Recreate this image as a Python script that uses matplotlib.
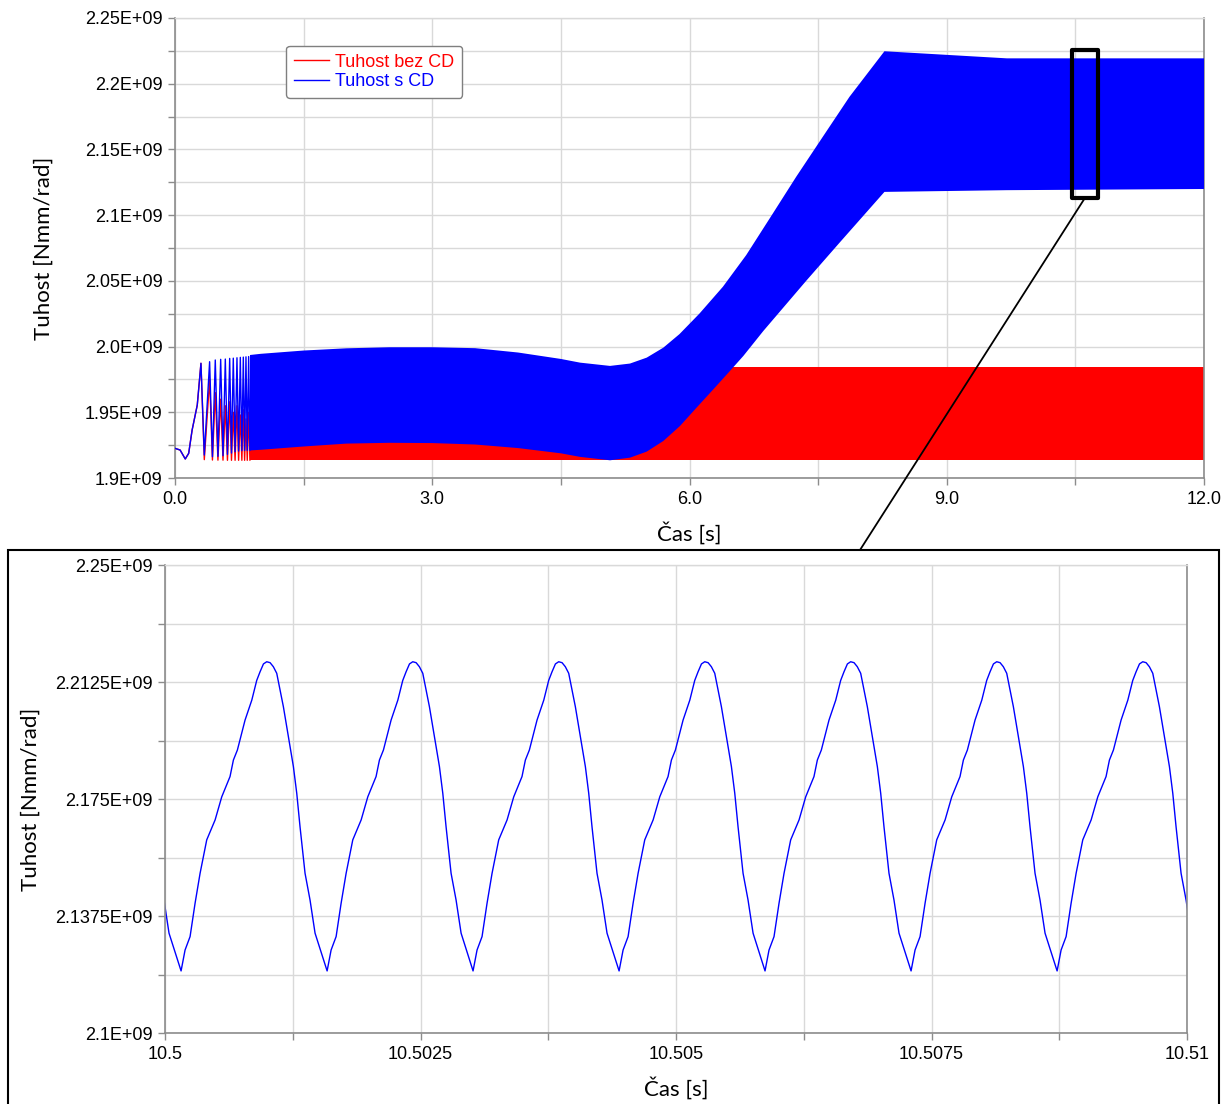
import matplotlib.pyplot as plt
from matplotlib.patches import Rectangle, ConnectionPatch
import numpy as np

plt.rcParams['font.family'] = ['Liberation Sans', 'DejaVu Sans']

BLUE = '#0000ff'
RED = '#ff0000'
GRID = '#d9d9d9'
SPINE = '#8c8c8c'

# ---- top chart, values in 1E9 Nmm/rad ----
# start-up transient (same for both curves up to first peak)
start_t = [0.0, 0.06, 0.12, 0.16, 0.20, 0.26]
start_v = [1.9226, 1.9213, 1.9145, 1.9188, 1.9365, 1.9555]

# oscillation peaks / valleys before the band closes
peak_t = [0.303, 0.404, 0.470, 0.533, 0.587, 0.638, 0.680, 0.723, 0.762,
          0.797, 0.828, 0.859, 0.890]
blue_peak_v = [1.9873, 1.9885, 1.9898, 1.9903, 1.9905, 1.9910, 1.9912,
               1.9915, 1.9918, 1.9920, 1.9922, 1.9924, 1.9926]
red_peak_v = [1.9873, 1.9750, 1.9650, 1.9600, 1.9550, 1.9580, 1.9500,
              1.9550, 1.9480, 1.9520, 1.9450, 1.9500, 1.9460]
valley_t = [0.342, 0.437, 0.501, 0.560, 0.612, 0.659, 0.701, 0.742, 0.780,
            0.812, 0.843, 0.874]
blue_valley_v = [1.9175, 1.9162, 1.9165, 1.9170, 1.9180, 1.9190, 1.9200,
                 1.9205, 1.9208, 1.9210, 1.9210, 1.9210]
red_valley_v = [1.9140, 1.9137, 1.9136, 1.9136, 1.9135, 1.9135, 1.9135,
                1.9135, 1.9135, 1.9135, 1.9135, 1.9135]

# envelope of the dense oscillation (rendered as a band)
upper_t = [0.875, 1.0, 1.5, 2.0, 2.5, 3.0, 3.5, 4.0, 4.5, 4.723, 5.073,
           5.306, 5.501, 5.695, 5.883, 6.117, 6.389, 6.661, 6.972, 7.244,
           7.554, 7.865, 8.273, 9.70, 12.0]
upper_v = [1.9936, 1.9945, 1.9970, 1.9987, 1.9995, 1.9995, 1.9988, 1.9955,
           1.9906, 1.9878, 1.9853, 1.9871, 1.9916, 1.9992, 2.0095, 2.0252,
           2.0455, 2.0696, 2.1013, 2.1292, 2.1596, 2.1900, 2.2247,
           2.2193, 2.2193]
lower_t = [0.875, 1.0, 1.5, 2.0, 2.5, 3.0, 3.5, 4.0, 4.5, 4.723, 5.073,
           5.306, 5.501, 5.695, 5.889, 6.083, 6.278, 6.472, 6.628, 6.861,
           7.360, 7.749, 8.273, 9.70, 12.0]
lower_v = [1.9210, 1.9215, 1.9240, 1.9262, 1.9268, 1.9266, 1.9255, 1.9228,
           1.9188, 1.9161, 1.9135, 1.9155, 1.9201, 1.9282, 1.9396, 1.9536,
           1.9675, 1.9815, 1.9929, 2.0119, 2.0500, 2.0790, 2.1177, 2.1190,
           2.1199]
red_band_t = [0.875, 12.0]
red_lower = [1.9135, 1.9135]
red_upper = [1.9845, 1.9845]

top_xticks = [0.0, 1.5, 3.0, 4.5, 6.0, 7.5, 9.0, 10.5, 12.0]
top_xlabels = ['0.0', '', '3.0', '', '6.0', '', '9.0', '', '12.0']
top_yticks = [1.9, 1.925, 1.95, 1.975, 2.0, 2.025, 2.05, 2.075, 2.1, 2.125,
              2.15, 2.175, 2.2, 2.225, 2.25]
top_ylabels = ['1.9E+09', '', '1.95E+09', '', '2.0E+09', '', '2.05E+09', '',
               '2.1E+09', '', '2.15E+09', '', '2.2E+09', '', '2.25E+09']

# ---- bottom chart: one read period (offset in us from a minimum) ----
cycle_us = [0, 39, 88, 137, 186, 251, 333, 398, 479, 512, 551, 626, 692,
            740, 773, 806, 838, 871, 903, 936, 969, 1001, 1034, 1066, 1099,
            1132, 1164, 1213, 1262, 1311, 1343]
cycle_v = [2.1199, 2.1266, 2.1309, 2.1416, 2.1512, 2.1619, 2.1683, 2.1757,
           2.1822, 2.1875, 2.1907, 2.2003, 2.2067, 2.2130, 2.2158, 2.2183,
           2.2190, 2.2187, 2.2174, 2.2153, 2.2099, 2.2046, 2.1982, 2.1918,
           2.1854, 2.1768, 2.1661, 2.1512, 2.1426, 2.1320, 2.1287]
# times of the minima, us after 10.5 s
min_us = [-1272, 157, 1586, 3014, 4443, 5871, 7300, 8729, 10157]

bot_xticks = [10.5, 10.50125, 10.5025, 10.50375, 10.505, 10.50625, 10.5075,
              10.50875, 10.51]
bot_xlabels = ['10.5', '', '10.5025', '', '10.505', '', '10.5075', '', '10.51']
bot_yticks = [2.1, 2.11875, 2.1375, 2.15625, 2.175, 2.19375, 2.2125,
              2.23125, 2.25]
bot_ylabels = ['2.1E+09', '', '2.1375E+09', '', '2.175E+09', '',
               '2.2125E+09', '', '2.25E+09']


def style_axes(ax, xticks, xlabels, yticks, ylabels):
    ax.set_xticks(xticks)
    ax.set_xticklabels(xlabels)
    ax.set_yticks(yticks)
    ax.set_yticklabels(ylabels)
    ax.grid(True, color=GRID, linewidth=1.0)
    ax.set_axisbelow(True)
    ax.tick_params(direction='out', length=5, width=1, color=SPINE,
                   labelsize=13, pad=4)
    for side in ['left', 'bottom', 'right']:
        ax.spines[side].set_color(SPINE)
        ax.spines[side].set_linewidth(1.2)
    ax.spines['top'].set_color(GRID)
    ax.spines['top'].set_linewidth(1.0)


fig = plt.figure(figsize=(12.27, 11.04), dpi=100)
ax1 = fig.add_axes([0.1426, 0.567, 0.8387, 0.4167])
ax2 = fig.add_axes([0.1345, 0.0643, 0.8329, 0.4239])

# top panel
def zigzag(peaks_v, valleys_v):
    t, v = list(start_t), list(start_v)
    for i in range(len(peak_t)):
        t.append(peak_t[i])
        v.append(peaks_v[i])
        if i < len(valley_t):
            t.append(valley_t[i])
            v.append(valleys_v[i])
    return np.array(t), np.array(v) * 1e9

rt, rv = zigzag(red_peak_v, red_valley_v)
bt, bv = zigzag(blue_peak_v, blue_valley_v)

ax1.plot(rt, rv, color=RED, linewidth=1.0, label='Tuhost bez CD', zorder=2)
ax1.fill_between(red_band_t, np.array(red_lower) * 1e9,
                 np.array(red_upper) * 1e9, color=RED, linewidth=0, zorder=2)
ax1.plot(bt, bv, color=BLUE, linewidth=1.0, label='Tuhost s CD', zorder=3)
band_x = np.concatenate([upper_t, lower_t[::-1]])
band_y = np.concatenate([upper_v, lower_v[::-1]]) * 1e9
ax1.fill(band_x, band_y, color=BLUE, linewidth=0, zorder=3)

ax1.set_xlim(0, 12)
ax1.set_ylim(1.9e9, 2.25e9)
style_axes(ax1, top_xticks, top_xlabels,
           [y * 1e9 for y in top_yticks], top_ylabels)
ax1.set_xlabel('Čas [s]', family='Lato', fontsize=16, labelpad=10)
ax1.set_ylabel('Tuhost [Nmm/rad]', family='Lato', fontsize=16, labelpad=22)

leg = ax1.legend(loc='upper left', bbox_to_anchor=(0.108, 0.94), fontsize=13,
                 labelcolor='linecolor', handlelength=1.9, handletextpad=0.35,
                 borderpad=0.45, labelspacing=0.12, borderaxespad=0,
                 fancybox=True, framealpha=1)
leg.get_frame().set_edgecolor('#7f7f7f')
leg.get_frame().set_linewidth(1.0)

# zoom marker box on the top panel
box = Rectangle((10.46, 2.113e9), 0.30, 0.1127e9, fill=False, edgecolor='black',
                linewidth=3.0, joinstyle='round', zorder=5, clip_on=False)
ax1.add_patch(box)

# bottom panel
bx, by = [], []
for m in min_us:
    for off, val in zip(cycle_us, cycle_v):
        bx.append(10.5 + (m + off) * 1e-6)
        by.append(val * 1e9)
ax2.plot(bx, by, color=BLUE, linewidth=1.0)
ax2.set_xlim(10.5, 10.51)
ax2.set_ylim(2.1e9, 2.25e9)
style_axes(ax2, bot_xticks, bot_xlabels,
           [y * 1e9 for y in bot_yticks], bot_ylabels)
ax2.set_xlabel('Čas [s]', family='Lato', fontsize=16, labelpad=10)
ax2.set_ylabel('Tuhost [Nmm/rad]', family='Lato', fontsize=16, labelpad=10)

# frame around the detail and the connector line
frame = Rectangle((8 / 1227, -0.01), 1211 / 1227, 0.01 + 1 - 550 / 1104,
                  transform=fig.transFigure, fill=False, edgecolor='black',
                  linewidth=1.5)
fig.add_artist(frame)
con = ConnectionPatch(xyA=(10.61, 2.113e9), coordsA=ax1.transData,
                      xyB=(860 / 1227, 1 - 550 / 1104), coordsB=fig.transFigure,
                      color='black', linewidth=1.3)
fig.add_artist(con)

fig.savefig('out.png', dpi=100)
